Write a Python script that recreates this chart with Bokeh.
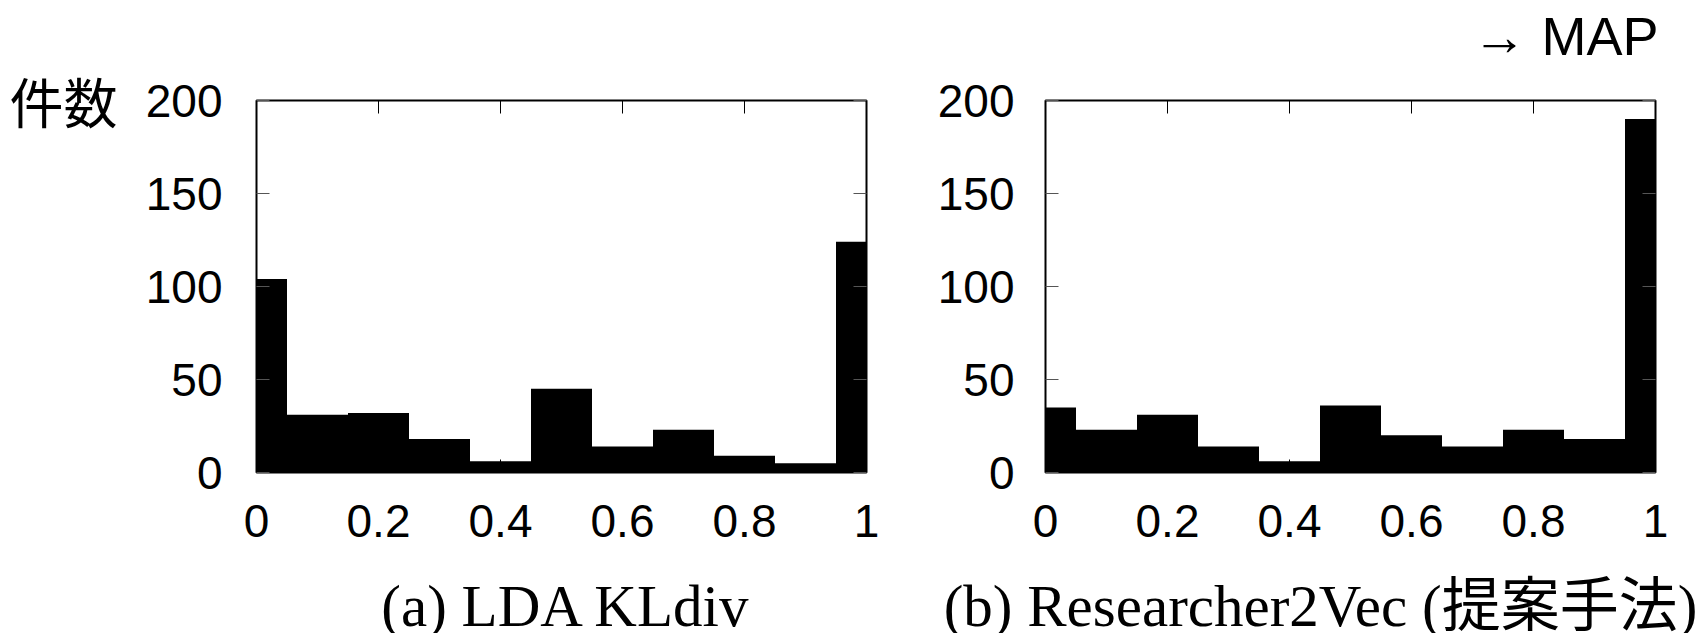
from bokeh.plotting import figure
from bokeh.models import Range1d, LinearAxis, FixedTicker, ColumnDataSource
from bokeh.layouts import row, column
from bokeh.core.properties import value
from bokeh.embed import file_html
from bokeh.resources import INLINE

# ---- data ----
bin_centers = [0.0, 0.1, 0.2, 0.3, 0.4, 0.5, 0.6, 0.7, 0.8, 0.9, 1.0]
lda_counts = [104, 31, 32, 18, 6, 45, 14, 23, 9, 5, 124]
r2v_counts = [35, 23, 31, 14, 6, 36, 20, 14, 23, 18, 190]
x_ticks = [0, 0.2, 0.4, 0.6, 0.8, 1]
x_tick_labels = ["0", "0.2", "0.4", "0.6", "0.8", "1"]
y_ticks = [0, 50, 100, 150, 200]
y_tick_labels = ["0", "50", "100", "150", "200"]
captions = ["(a) LDA KLdiv", "(b) Researcher2Vec (提案手法)"]
y_title = "件数"
x_title = "→ MAP"

# ---- layout constants (pixels) ----
PAGE_W, PAGE_H = 1707, 633
FRAME_W, FRAME_H = 610, 372
TOP = 100
BOTTOM = 88
H = TOP + FRAME_H + BOTTOM
CAP_H = PAGE_H - H
SANS = "Liberation Sans"
SERIF = "Liberation Serif, Noto Sans CJK JP"
CJK = "Noto Sans CJK JP"
TICK_FS = "46px"


def px_to_x(px):
    return px / FRAME_W


def text_axis(ticks, labels, font, size, standoff):
    return LinearAxis(ticker=FixedTicker(ticks=ticks),
                      major_label_overrides={t: l for t, l in zip(ticks, labels)},
                      major_tick_in=0, major_tick_out=0,
                      major_tick_line_color=None, minor_tick_line_color=None,
                      axis_line_color=None,
                      major_label_text_font=font, major_label_text_font_size=size,
                      major_label_text_color="black",
                      major_label_standoff=standoff)


def make_panel(counts, left_border, right_border, ylab_standoff):
    p = figure(width=left_border + FRAME_W + right_border, height=H,
               x_range=Range1d(0, 1), y_range=Range1d(0, 200),
               output_backend="svg", toolbar_location=None,
               min_border_left=left_border, min_border_right=right_border,
               min_border_top=TOP, min_border_bottom=BOTTOM,
               background_fill_color="white", border_fill_color="white")
    p.xgrid.visible = False
    p.ygrid.visible = False
    p.outline_line_color = "black"
    p.outline_line_width = 2

    src = ColumnDataSource(dict(x=bin_centers, top=counts))
    p.vbar(x="x", top="top", width=0.1, bottom=0, source=src,
           fill_color="black", line_color=None)

    for ax in p.xaxis:
        ax.ticker = FixedTicker(ticks=x_ticks)
        ax.major_label_overrides = {t: l for t, l in zip(x_ticks, x_tick_labels)}
        ax.major_tick_in = 13
        ax.major_tick_out = 0
        ax.minor_tick_line_color = None
        ax.axis_line_color = None
        ax.major_tick_line_color = "black"
        ax.major_label_text_font = SANS
        ax.major_label_text_font_size = TICK_FS
        ax.major_label_text_color = "black"
        ax.major_label_standoff = 32
    for ax in p.yaxis:
        ax.ticker = FixedTicker(ticks=y_ticks)
        ax.major_label_overrides = {t: l for t, l in zip(y_ticks, y_tick_labels)}
        ax.major_tick_in = 13
        ax.major_tick_out = 0
        ax.minor_tick_line_color = None
        ax.axis_line_color = None
        ax.major_tick_line_color = "#555555"
        ax.major_label_text_font = SANS
        ax.major_label_text_font_size = TICK_FS
        ax.major_label_text_color = "black"
        ax.major_label_standoff = ylab_standoff

    # mirror ticks (top / right), no labels
    top_ax = LinearAxis(ticker=FixedTicker(ticks=x_ticks), major_tick_in=13,
                        major_tick_out=0, minor_tick_line_color=None,
                        axis_line_color=None, major_tick_line_color="black",
                        major_label_overrides={t: "" for t in x_ticks},
                        major_label_text_font_size="2px", major_label_standoff=0)
    right_ax = LinearAxis(ticker=FixedTicker(ticks=y_ticks), major_tick_in=13,
                          major_tick_out=0, minor_tick_line_color=None,
                          axis_line_color=None, major_tick_line_color="#555555",
                          major_label_overrides={t: "" for t in y_ticks},
                          major_label_text_font_size="2px", major_label_standoff=0)
    p.add_layout(top_ax, "above")
    p.add_layout(right_ax, "right")
    return p


p1 = make_panel(lda_counts, 256, 42, 34)
p2 = make_panel(r2v_counts, 137, 52, 31)

# y title (件数) left of the "200" label, on an outer left axis
p1.add_layout(text_axis([y_ticks[-1]], [y_title], CJK, "54px", 25), "left")

# x title (→ MAP) above the right panel
p2.add_layout(text_axis([px_to_x(520)], [x_title], SANS, "54px", 35), "above")

# caption strip below both panels (x/y ranges in page pixels)
cap = figure(width=PAGE_W, height=CAP_H, x_range=Range1d(0, PAGE_W),
             y_range=Range1d(0, CAP_H), output_backend="svg",
             toolbar_location=None, title=None,
             min_border=0, min_border_left=0, min_border_right=0,
             min_border_top=0, min_border_bottom=0,
             background_fill_color="white", border_fill_color="white")
cap.axis.visible = False
cap.grid.visible = False
cap.outline_line_color = None
cap.text(x=[566, 1320], y=[28, 28], text=captions,
         text_font=value(SERIF), text_font_size=value("59px"),
         text_color="black", text_align="center", text_baseline="alphabetic")

layout = column(row(p1, p2, spacing=0), cap, spacing=0)
open("out.html", "w").write(file_html(layout, INLINE))
